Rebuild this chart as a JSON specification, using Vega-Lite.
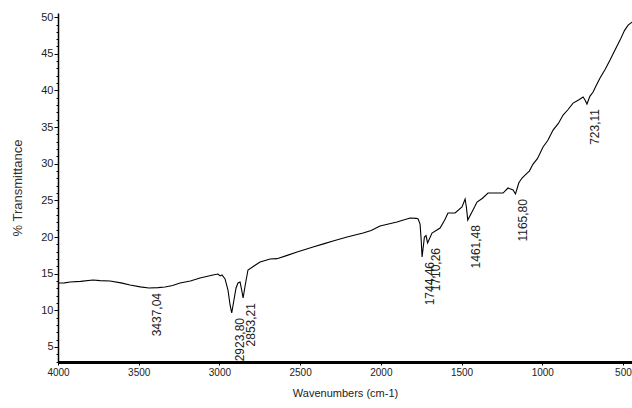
{
  "$schema": "https://vega.github.io/schema/vega-lite/v6.json",
  "width": 574,
  "height": 349,
  "autosize": {"type": "none"},
  "padding": {"left": 58, "top": 13, "right": 0, "bottom": 46},
  "background": "white",
  "config": {"view": {"stroke": null}, "font": "Liberation Sans, Arial"},
  "datasets": {
    "spectrum": [
      {"wn": 4000, "t": 13.73}, {"wn": 3960, "t": 13.75}, {"wn": 3925, "t": 13.87}, {"wn": 3860, "t": 13.95},
      {"wn": 3783, "t": 14.14}, {"wn": 3740, "t": 14.05}, {"wn": 3678, "t": 14.0}, {"wn": 3610, "t": 13.75},
      {"wn": 3554, "t": 13.46}, {"wn": 3490, "t": 13.2}, {"wn": 3437, "t": 13.05}, {"wn": 3380, "t": 13.1},
      {"wn": 3337, "t": 13.18}, {"wn": 3290, "t": 13.4}, {"wn": 3244, "t": 13.73}, {"wn": 3180, "t": 14.0},
      {"wn": 3120, "t": 14.41}, {"wn": 3040, "t": 14.82}, {"wn": 3009, "t": 14.96}, {"wn": 2995, "t": 14.7},
      {"wn": 2984, "t": 14.82}, {"wn": 2965, "t": 14.28}, {"wn": 2947, "t": 12.77}, {"wn": 2934, "t": 10.73},
      {"wn": 2923.8, "t": 9.64}, {"wn": 2910, "t": 11.41}, {"wn": 2897, "t": 13.05}, {"wn": 2885, "t": 13.73},
      {"wn": 2872, "t": 13.87}, {"wn": 2862, "t": 12.77}, {"wn": 2853.2, "t": 11.68}, {"wn": 2840, "t": 13.46},
      {"wn": 2823, "t": 15.5}, {"wn": 2786, "t": 16.05}, {"wn": 2748, "t": 16.59}, {"wn": 2686, "t": 17.0},
      {"wn": 2643, "t": 17.05}, {"wn": 2580, "t": 17.5}, {"wn": 2519, "t": 17.96}, {"wn": 2420, "t": 18.64},
      {"wn": 2350, "t": 19.1}, {"wn": 2296, "t": 19.46}, {"wn": 2209, "t": 20.0}, {"wn": 2110, "t": 20.55},
      {"wn": 2060, "t": 20.9}, {"wn": 2005, "t": 21.5}, {"wn": 1900, "t": 22.05}, {"wn": 1819, "t": 22.6},
      {"wn": 1780, "t": 22.55}, {"wn": 1769, "t": 22.46}, {"wn": 1757, "t": 21.78}, {"wn": 1750, "t": 19.6},
      {"wn": 1744.5, "t": 17.28}, {"wn": 1730, "t": 20.0}, {"wn": 1720, "t": 20.2}, {"wn": 1710.3, "t": 19.19},
      {"wn": 1683, "t": 20.55}, {"wn": 1633, "t": 21.23}, {"wn": 1605, "t": 22.3}, {"wn": 1584, "t": 23.28},
      {"wn": 1540, "t": 23.28}, {"wn": 1497, "t": 24.1}, {"wn": 1478, "t": 25.19}, {"wn": 1470, "t": 24.1},
      {"wn": 1461.5, "t": 22.32}, {"wn": 1429, "t": 23.69}, {"wn": 1404, "t": 24.78}, {"wn": 1370, "t": 25.3},
      {"wn": 1336, "t": 26.0}, {"wn": 1243, "t": 26.0}, {"wn": 1212, "t": 26.69}, {"wn": 1181, "t": 26.41},
      {"wn": 1165.8, "t": 25.87}, {"wn": 1145, "t": 27.4}, {"wn": 1125, "t": 28.05}, {"wn": 1094, "t": 28.73},
      {"wn": 1080, "t": 29.0}, {"wn": 1057, "t": 29.96}, {"wn": 1030, "t": 30.7}, {"wn": 995, "t": 32.28},
      {"wn": 965, "t": 33.2}, {"wn": 933, "t": 34.6}, {"wn": 900, "t": 35.5}, {"wn": 871, "t": 36.64},
      {"wn": 840, "t": 37.4}, {"wn": 809, "t": 38.28}, {"wn": 775, "t": 38.7}, {"wn": 747, "t": 39.1},
      {"wn": 735, "t": 38.7}, {"wn": 723.1, "t": 38.15}, {"wn": 705, "t": 39.2}, {"wn": 685, "t": 39.78},
      {"wn": 665, "t": 40.7}, {"wn": 642, "t": 41.69}, {"wn": 610, "t": 42.9}, {"wn": 580, "t": 44.15},
      {"wn": 550, "t": 45.5}, {"wn": 518, "t": 46.87}, {"wn": 490, "t": 48.2}, {"wn": 468, "t": 48.92},
      {"wn": 444, "t": 49.33}
    ],
    "peaks": [
      {"wn": 3437.04, "t": 13.05, "label": "3437,04"},
      {"wn": 2923.80, "t": 9.64, "label": "2923,80"},
      {"wn": 2853.21, "t": 11.68, "label": "2853,21"},
      {"wn": 1744.46, "t": 17.28, "label": "1744,46"},
      {"wn": 1710.26, "t": 19.19, "label": "1710,26"},
      {"wn": 1461.48, "t": 22.32, "label": "1461,48"},
      {"wn": 1165.80, "t": 25.87, "label": "1165,80"},
      {"wn": 723.11, "t": 38.15, "label": "723,11"}
    ]
  },
  "encoding": {
    "x": {
      "field": "wn", "type": "quantitative",
      "scale": {"domain": [444, 4000], "reverse": true, "nice": false, "zero": false},
      "axis": {
        "values": [4000, 3500, 3000, 2500, 2000, 1500, 1000, 500],
        "format": "d",
        "title": "Wavenumbers (cm-1)",
        "titleFontSize": 11, "titleFontWeight": "normal", "titleColor": "#222",
        "titlePadding": 10,
        "labelFontSize": 10, "labelColor": "#222", "labelPadding": 2,
        "domainColor": "black", "domainWidth": 3,
        "tickColor": "black", "tickSize": 3, "tickWidth": 1,
        "grid": false, "labelOverlap": false, "labelFlush": false
      }
    },
    "y": {
      "field": "t", "type": "quantitative",
      "scale": {"domain": [2.95, 50.57], "nice": false, "zero": false},
      "axis": {
        "values": [3,4,5,6,7,8,9,10,11,12,13,14,15,16,17,18,19,20,21,22,23,24,25,26,27,28,29,30,31,32,33,34,35,36,37,38,39,40,41,42,43,44,45,46,47,48,49,50],
        "labelExpr": "datum.value % 5 === 0 ? datum.label : ''",
        "title": "% Transmittance",
        "titleFontSize": 13, "titleFontWeight": "normal", "titleColor": "#333",
        "titlePadding": 16,
        "labelFontSize": 11, "labelColor": "#222", "labelPadding": 1,
        "domainColor": "black", "domainWidth": 1.5,
        "tickColor": "black",
        "tickSize": {"condition": {"test": "datum.value % 5 === 0", "value": 4}, "value": 2},
        "tickWidth": 1,
        "grid": false, "labelOverlap": false, "labelFlush": false
      }
    }
  },
  "layer": [
    {
      "data": {"name": "spectrum"},
      "mark": {"type": "line", "color": "black", "strokeWidth": 1.1, "clip": true},
      "encoding": {"order": {"field": "wn", "type": "quantitative", "sort": "descending"}}
    },
    {
      "data": {"name": "peaks"},
      "mark": {"type": "text", "angle": 270, "align": "right", "baseline": "middle", "dx": -5, "dy": 8, "fontSize": 12, "color": "#222", "clip": true},
      "encoding": {"text": {"field": "label", "type": "nominal"}}
    }
  ]
}
